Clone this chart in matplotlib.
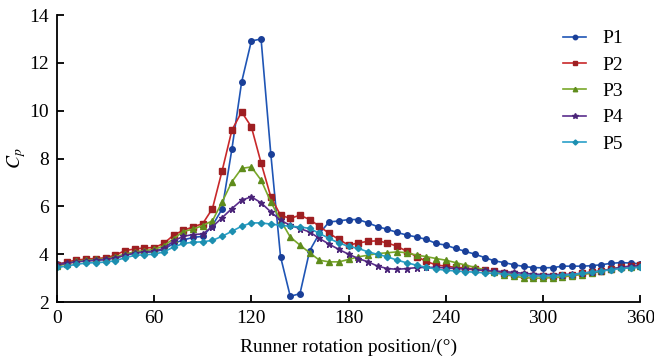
import numpy as np
import matplotlib.pyplot as plt

# pressure coefficient at five monitoring points, one value every 6 degrees
angle = np.arange(0, 361, 6)

p1 = [3.60, 3.65, 3.70, 3.72, 3.75, 3.78, 3.85, 3.95, 4.05, 4.08, 4.10,
      4.20, 4.45, 4.60, 4.70, 4.75, 5.20, 5.90, 8.40, 11.20, 12.92, 13.00,
      8.20, 3.90, 2.24, 2.35, 4.15, 4.87, 5.35, 5.39, 5.45, 5.45, 5.31,
      5.15, 5.04, 4.91, 4.80, 4.72, 4.62, 4.45, 4.38, 4.24, 4.12, 4.00,
      3.86, 3.72, 3.65, 3.56, 3.49, 3.44, 3.43, 3.44, 3.50, 3.50, 3.50,
      3.52, 3.56, 3.62, 3.65, 3.63, 3.60]
p2 = [3.54, 3.68, 3.75, 3.80, 3.82, 3.85, 3.96, 4.15, 4.22, 4.26, 4.28,
      4.45, 4.80, 5.00, 5.14, 5.28, 5.91, 7.50, 9.19, 9.95, 9.33, 7.82,
      6.40, 5.63, 5.50, 5.63, 5.45, 5.17, 4.87, 4.62, 4.38, 4.47, 4.54,
      4.56, 4.47, 4.33, 4.12, 3.90, 3.70, 3.55, 3.50, 3.45, 3.42, 3.38,
      3.33, 3.28, 3.22, 3.17, 3.12, 3.10, 3.10, 3.10, 3.12, 3.15, 3.20,
      3.25, 3.30, 3.38, 3.45, 3.50, 3.55]
p3 = [3.50, 3.60, 3.70, 3.75, 3.78, 3.80, 3.90, 4.00, 4.10, 4.15, 4.20,
      4.35, 4.65, 4.95, 5.05, 5.20, 5.40, 6.19, 7.03, 7.59, 7.65, 7.10,
      6.19, 5.42, 4.72, 4.38, 4.06, 3.75, 3.68, 3.68, 3.78, 3.89, 3.96,
      4.03, 4.06, 4.10, 4.06, 3.96, 3.90, 3.82, 3.75, 3.65, 3.55, 3.45,
      3.35, 3.25, 3.15, 3.08, 3.02, 3.00, 3.00, 3.02, 3.05, 3.10, 3.15,
      3.20, 3.30, 3.38, 3.45, 3.48, 3.50]
p4 = [3.55, 3.62, 3.68, 3.72, 3.75, 3.78, 3.85, 3.95, 4.05, 4.10, 4.12,
      4.25, 4.55, 4.75, 4.82, 4.85, 5.15, 5.53, 5.91, 6.26, 6.40, 6.15,
      5.77, 5.42, 5.21, 5.07, 4.93, 4.66, 4.42, 4.20, 4.00, 3.82, 3.68,
      3.50, 3.40, 3.37, 3.40, 3.44, 3.45, 3.45, 3.43, 3.40, 3.38, 3.35,
      3.32, 3.30, 3.27, 3.24, 3.20, 3.17, 3.15, 3.15, 3.15, 3.17, 3.20,
      3.25, 3.30, 3.38, 3.45, 3.50, 3.52]
p5 = [3.45, 3.50, 3.58, 3.63, 3.65, 3.67, 3.73, 3.85, 3.95, 3.98, 4.00,
      4.10, 4.30, 4.45, 4.50, 4.52, 4.58, 4.75, 4.96, 5.17, 5.31, 5.31,
      5.26, 5.21, 5.17, 5.14, 5.08, 4.87, 4.66, 4.47, 4.33, 4.24, 4.10,
      3.99, 3.89, 3.75, 3.64, 3.54, 3.45, 3.38, 3.33, 3.30, 3.27, 3.25,
      3.22, 3.20, 3.18, 3.15, 3.12, 3.10, 3.10, 3.10, 3.12, 3.15, 3.20,
      3.25, 3.30, 3.35, 3.40, 3.43, 3.45]

labels = ['P1', 'P2', 'P3', 'P4', 'P5']

plt.rcParams['font.family'] = 'Liberation Serif'
plt.rcParams['mathtext.fontset'] = 'stix'

fig = plt.figure(figsize=(6.54, 3.6), dpi=100)
ax = fig.add_axes([0.087, 0.161, 0.892, 0.797])

styles = [('#1f55b5', '#1a3f98', 'o', 4.0),
          ('#c8282a', '#9e1f22', 's', 3.8),
          ('#79a82a', '#5f8c1c', '^', 4.0),
          ('#5a2d8c', '#4a2478', '*', 5.0),
          ('#2aa0c8', '#1d8fb0', 'D', 3.2)]
for y, lab, (c, mc, m, ms) in zip([p1, p2, p3, p4, p5], labels, styles):
    ax.plot(angle, y, '-', color=c, lw=1.2, marker=m, ms=ms,
            mfc=mc, mec=mc, label=lab)

ax.set_xlim(0, 360)
ax.set_ylim(2, 14)
ax.set_xticks(np.arange(0, 361, 60))
ax.set_yticks(np.arange(2, 15, 2))
ax.spines['top'].set_visible(False)
ax.spines['right'].set_visible(False)
ax.spines['left'].set_linewidth(1.3)
ax.spines['bottom'].set_linewidth(1.3)
ax.tick_params(direction='in', length=5, width=1.3, labelsize=14, pad=6)
ax.set_xlabel('Runner rotation position/(°)', fontsize=14, labelpad=8)
ax.set_ylabel('$C_p$', fontsize=14)
ax.yaxis.set_label_coords(-0.049, 0.5)

leg = ax.legend(loc='upper right', bbox_to_anchor=(1.0, 1.01), frameon=False,
                fontsize=14, handlelength=1.2, labelspacing=0.45,
                markerscale=0.8)

fig.savefig('out.png', dpi=100)
